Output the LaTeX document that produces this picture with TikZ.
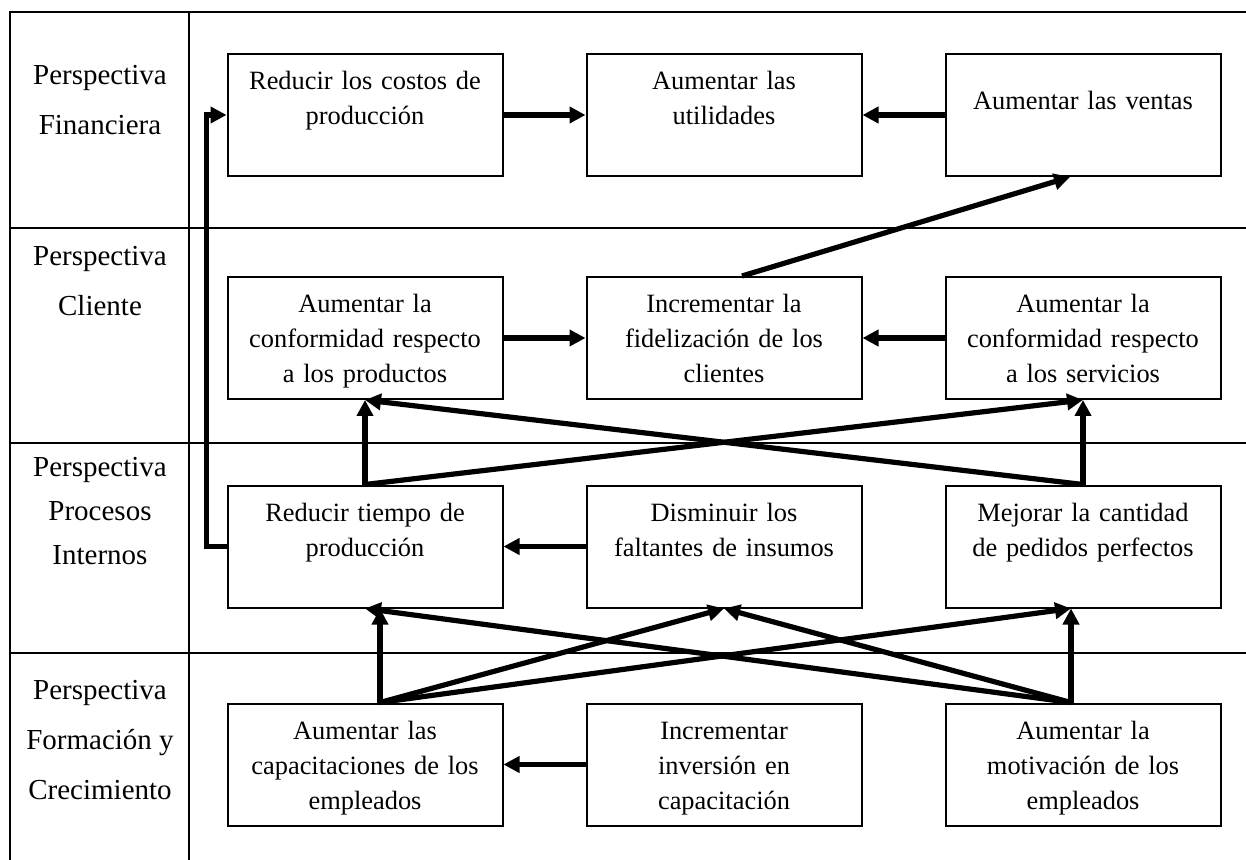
\documentclass[tikz,border=0pt]{standalone}
\usepackage{fontspec}
\setmainfont{Liberation Serif}
\usetikzlibrary{arrows.meta, positioning, calc}

\begin{document}
\begin{tikzpicture}[x=0.5pt, y=-0.5pt, node distance=41pt]
    \tikzstyle{grid}=[line width=0.8pt]
    \tikzstyle{goal}=[rectangle, draw, line width=1pt, inner sep=0pt, minimum width=137.5pt, text width=130pt, align=center, text height=18pt, text depth=43pt, font=\fontsize{13.2}{17.5}\selectfont]
    \tikzstyle{persp}=[align=center, font=\fontsize{14.5}{25}\selectfont]
    \tikzstyle{flow}=[line width=2.6pt, -{Triangle[length=8pt, width=8pt]}]
    \useasboundingbox (0,0) rectangle (1246,860);
    % table frame
    \draw[grid] (10,860) -- (10,12) -- (1246,12);
    \draw[grid] (189,12) -- (189,860);
    \draw[grid] (10,228) -- (1246,228);
    \draw[grid] (10,443) -- (1246,443);
    \draw[grid] (10,653) -- (1246,653);
    % perspectives
    \node[persp] (lfin) at (100,100) {Perspectiva\\Financiera};
    \node[persp] (lcli) at (100,281) {Perspectiva\\Cliente};
    \node[persp, font=\fontsize{14.5}{22}\selectfont] (lpro) at (100,511) {Perspectiva\\Procesos\\Internos};
    \node[persp] (lfor) at (100,740) {Perspectiva\\Formación y\\Crecimiento};
    % objectives
    \node[goal] (fin1) at (365,115) {Reducir los costos de\\producción};
    \node[goal, right=of fin1] (fin2) {Aumentar las\\utilidades};
    \node[goal, right=of fin2, text height=28pt, text depth=33pt] (fin3) {Aumentar las ventas};
    \node[goal] (cli1) at (365,338) {Aumentar la\\conformidad respecto\\a los productos};
    \node[goal, right=of cli1] (cli2) {Incrementar la\\fidelización de los\\clientes};
    \node[goal, right=of cli2] (cli3) {Aumentar la\\conformidad respecto\\a los servicios};
    \node[goal] (pro1) at (365,546.5) {Reducir tiempo de\\producción};
    \node[goal, right=of pro1] (pro2) {Disminuir los\\faltantes de insumos};
    \node[goal, right=of pro2] (pro3) {Mejorar la cantidad\\de pedidos perfectos};
    \node[goal] (for1) at (365,764.5) {Aumentar las\\capacitaciones de los\\empleados};
    \node[goal, right=of for1] (for2) {Incrementar\\inversión en\\capacitación};
    \node[goal, right=of for2] (for3) {Aumentar la\\motivación de los\\empleados};
    % links
    \draw[flow] (fin1.east) -- (fin2.west);
    \draw[flow] (fin3.west) -- (fin2.east);
    \draw[flow] ($(cli2.north)+(18,0)$) -- ($(fin3.south)+(-13,0)$);
    \draw[flow] (cli1.east) -- (cli2.west);
    \draw[flow] (cli3.west) -- (cli2.east);
    \draw[flow] (pro1.north) -- (cli1.south);
    \draw[flow] (pro1.north) -- (cli3.south);
    \draw[flow] (pro3.north) -- (cli3.south);
    \draw[flow] (pro3.north) -- (cli1.south);
    \draw[flow] (pro2.west) -- (pro1.east);
    \draw[flow] (pro1.west) -- ++(-20,0) |- (fin1.west);
    \coordinate (f1) at ($(for1.north)+(15,0)$);
    \coordinate (f3) at ($(for3.north)+(-12,0)$);
    \draw[flow] (f1) -- (f1 |- pro1.south);
    \draw[flow] (f1) -- (pro2.south);
    \draw[flow] (f1) -- (f3 |- pro3.south);
    \draw[flow] (f3) -- (f3 |- pro3.south);
    \draw[flow] (f3) -- (pro2.south);
    \draw[flow] (f3) -- (pro1.south);
    \draw[flow] (for2.west) -- (for1.east);
\end{tikzpicture}
\end{document}
